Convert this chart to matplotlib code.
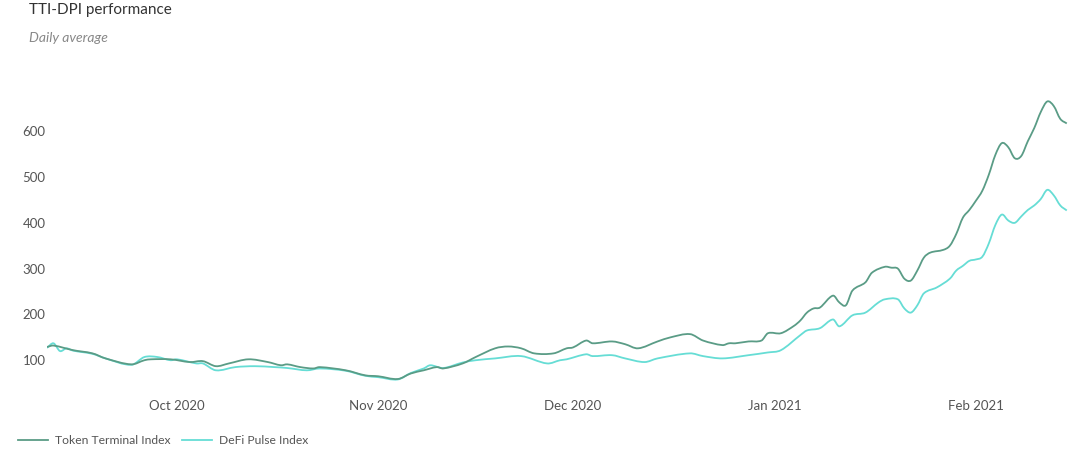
import matplotlib
matplotlib.use("Agg")
import matplotlib.pyplot as plt
import matplotlib.dates as mdates
from matplotlib.path import Path
from matplotlib.patches import PathPatch
from matplotlib.lines import Line2D
import numpy as np
import pandas as pd

plt.rcParams['font.family'] = ['Lato', 'DejaVu Sans']

title = "TTI-DPI performance"
subtitle = "Daily average"
series_names = ["Token Terminal Index", "DeFi Pulse Index"]

tti_dates = [
    "2020-09-11", "2020-09-12", "2020-09-15", "2020-09-18", "2020-09-20", "2020-09-24",
    "2020-09-26", "2020-09-27", "2020-09-30", "2020-10-03", "2020-10-05", "2020-10-07",
    "2020-10-09", "2020-10-12", "2020-10-15", "2020-10-17", "2020-10-18", "2020-10-20",
    "2020-10-22", "2020-10-23", "2020-10-27", "2020-10-30", "2020-11-01", "2020-11-04",
    "2020-11-06", "2020-11-08", "2020-11-10", "2020-11-11", "2020-11-14", "2020-11-16",
    "2020-11-19", "2020-11-21", "2020-11-23", "2020-11-25", "2020-11-28", "2020-11-30",
    "2020-12-01", "2020-12-03", "2020-12-04", "2020-12-07", "2020-12-09", "2020-12-11",
    "2020-12-14", "2020-12-16", "2020-12-19", "2020-12-21", "2020-12-24", "2020-12-25",
    "2020-12-26", "2020-12-28", "2020-12-30", "2020-12-31", "2021-01-02", "2021-01-04",
    "2021-01-05", "2021-01-06", "2021-01-07", "2021-01-08", "2021-01-10", "2021-01-11",
    "2021-01-12", "2021-01-13", "2021-01-15", "2021-01-16", "2021-01-18", "2021-01-19",
    "2021-01-20", "2021-01-21", "2021-01-22", "2021-01-23", "2021-01-24", "2021-01-25",
    "2021-01-27", "2021-01-28", "2021-01-29", "2021-01-30", "2021-01-31", "2021-02-01",
    "2021-02-02", "2021-02-03", "2021-02-04", "2021-02-05", "2021-02-06", "2021-02-07",
    "2021-02-08", "2021-02-09", "2021-02-10", "2021-02-11", "2021-02-12", "2021-02-13",
    "2021-02-14", "2021-02-15",
]
tti_values = [
    129, 132, 122, 115, 104, 91,
    100, 102, 102, 96, 98, 87,
    93, 102, 96, 89, 91, 85,
    82, 85, 78, 67, 65, 59,
    71, 78, 85, 82, 93, 107,
    126, 130, 126, 115, 115, 126,
    128, 143, 137, 141, 135, 126,
    141, 150, 157, 143, 133, 137,
    137, 141, 143, 159, 159, 175,
    187, 204, 213, 215, 241, 226,
    220, 252, 270, 291, 304, 302,
    300, 278, 274, 296, 324, 335,
    341, 350, 376, 411, 428, 448,
    470, 505, 548, 574, 565, 541,
    546, 578, 607, 642, 665, 655,
    627, 617,
]

dpi_dates = [
    "2020-09-11", "2020-09-12", "2020-09-13", "2020-09-14", "2020-09-15", "2020-09-18",
    "2020-09-20", "2020-09-24", "2020-09-26", "2020-09-28", "2020-09-30", "2020-10-01",
    "2020-10-04", "2020-10-05", "2020-10-07", "2020-10-10", "2020-10-13", "2020-10-16",
    "2020-10-18", "2020-10-21", "2020-10-23", "2020-10-27", "2020-10-30", "2020-11-01",
    "2020-11-04", "2020-11-06", "2020-11-08", "2020-11-09", "2020-11-11", "2020-11-14",
    "2020-11-16", "2020-11-19", "2020-11-23", "2020-11-27", "2020-11-29", "2020-11-30",
    "2020-12-03", "2020-12-04", "2020-12-07", "2020-12-09", "2020-12-12", "2020-12-14",
    "2020-12-19", "2020-12-21", "2020-12-24", "2020-12-28", "2020-12-31", "2021-01-02",
    "2021-01-05", "2021-01-06", "2021-01-08", "2021-01-10", "2021-01-11", "2021-01-13",
    "2021-01-15", "2021-01-17", "2021-01-18", "2021-01-20", "2021-01-21", "2021-01-22",
    "2021-01-23", "2021-01-24", "2021-01-26", "2021-01-28", "2021-01-29", "2021-01-30",
    "2021-01-31", "2021-02-01", "2021-02-02", "2021-02-03", "2021-02-04", "2021-02-05",
    "2021-02-06", "2021-02-07", "2021-02-08", "2021-02-09", "2021-02-10", "2021-02-11",
    "2021-02-12", "2021-02-13", "2021-02-14", "2021-02-15",
]
dpi_values = [
    127, 137, 120, 126, 121, 114,
    104, 90, 107, 107, 100, 102,
    93, 93, 78, 85, 87, 85,
    83, 78, 82, 77, 66, 63,
    58, 72, 82, 89, 83, 95,
    100, 104, 109, 93, 100, 102,
    113, 109, 111, 104, 96, 104,
    115, 109, 104, 111, 117, 122,
    155, 165, 170, 189, 174, 198,
    204, 226, 233, 233, 213, 204,
    220, 246, 259, 278, 296, 306,
    317, 320, 326, 355, 395, 418,
    405, 400, 414, 428, 438, 452,
    472, 460, 438, 427,
]

month_ticks = ["2020-10-01", "2020-11-01", "2020-12-01", "2021-01-01", "2021-02-01"]
month_labels = ["Oct 2020", "Nov 2020", "Dec 2020", "Jan 2021", "Feb 2021"]
y_ticks = [100, 200, 300, 400, 500, 600]

tti_color = "#5a9c86"
dpi_color = "#66ddd5"


def spline_path(xs, ys, tension=0.5):
    """Smooth (Catmull-Rom as Bezier) path through the data points."""
    x = np.asarray(xs, dtype=float)
    y = np.asarray(ys, dtype=float)
    verts = [(x[0], y[0])]
    codes = [Path.MOVETO]
    n = len(x)
    for i in range(n - 1):
        x0, y0 = (x[i - 1], y[i - 1]) if i > 0 else (x[i], y[i])
        x1, y1 = x[i], y[i]
        x2, y2 = x[i + 1], y[i + 1]
        x3, y3 = (x[i + 2], y[i + 2]) if i + 2 < n else (x2, y2)
        # tangents scaled to segment length (non-uniform Catmull-Rom)
        h = x2 - x1
        m1 = (y2 - y0) / (x2 - x0) if x2 != x0 else 0.0
        m2 = (y3 - y1) / (x3 - x1) if x3 != x1 else 0.0
        c1 = (x1 + h / 3.0, y1 + m1 * h / 3.0 * (tension * 2))
        c2 = (x2 - h / 3.0, y2 - m2 * h / 3.0 * (tension * 2))
        verts += [c1, c2, (x2, y2)]
        codes += [Path.CURVE4] * 3
    return Path(verts, codes)


W, H = 1080, 455
fig = plt.figure(figsize=(W / 100, H / 100), dpi=100)
ax = fig.add_axes([47 / W, (H - 390) / H, (1070 - 47) / W, 300 / H])

tti_x = mdates.date2num(pd.to_datetime(tti_dates).to_pydatetime())
dpi_x = mdates.date2num(pd.to_datetime(dpi_dates).to_pydatetime())

ax.add_patch(PathPatch(spline_path(dpi_x, dpi_values), facecolor="none",
                       edgecolor=dpi_color, lw=1.3, joinstyle="round", zorder=2))
ax.add_patch(PathPatch(spline_path(tti_x, tti_values), facecolor="none",
                       edgecolor=tti_color, lw=1.3, joinstyle="round", zorder=3))

ax.xaxis_date()
ax.set_xlim(pd.Timestamp("2020-09-11"), pd.Timestamp("2021-02-15 12:00"))
ax.set_ylim(35, 690)
ax.set_xticks(pd.to_datetime(month_ticks))
ax.set_xticklabels(month_labels)
ax.set_yticks(y_ticks)
ax.set_yticklabels([str(v) for v in y_ticks])
ax.tick_params(axis="both", length=0, labelsize=9.5, labelcolor="#555555")
ax.tick_params(axis="x", pad=7)
ax.tick_params(axis="y", pad=1)
for s in ax.spines.values():
    s.set_visible(False)
ax.set_facecolor("none")

fig.text(29 / W, 1 - 10 / H, title, fontsize=11, color="#333333", va="center", ha="left")
fig.text(29 / W, 1 - 38 / H, subtitle, fontsize=10, color="#888888", style="italic",
         va="center", ha="left")

h1 = Line2D([], [], color=tti_color, lw=1.3)
h2 = Line2D([], [], color=dpi_color, lw=1.3)
leg = fig.legend([h1, h2], series_names, loc="center left",
                 bbox_to_anchor=(18 / W, (H - 441) / H), bbox_transform=fig.transFigure,
                 ncol=2, frameon=False, fontsize=8.7, handlelength=2.5, handletextpad=0.55,
                 columnspacing=0.95, borderpad=0, borderaxespad=0)
for t in leg.get_texts():
    t.set_color("#555555")

fig.savefig("out.png", dpi=100)
